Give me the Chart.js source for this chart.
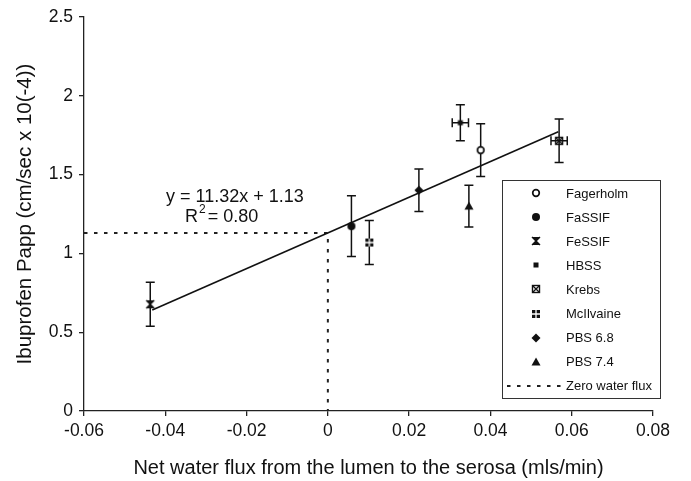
<!DOCTYPE html>
<html lang="en">
<head>
<meta charset="UTF-8">
<title>Ibuprofen Papp vs net water flux</title>
<script src="https://cdn.jsdelivr.net/npm/chart.js"></script>
<style>
    body {
        margin: 0;
        background: #fff;
        font-family: "Liberation Sans", Arial, sans-serif;
    }

    .wrap {
        position: relative;
        width: 691px;
        height: 481px;
    }

    #legend {
        position: absolute;
        left: 502px;
        top: 180px;
        width: 157px;
        height: 217px;
        border: 1.3px solid #333;
        background: #fff;
    }

    .row {
        display: flex;
        align-items: center;
        height: 24.1px;
        font-size: 13px;
        color: #111;
        white-space: nowrap;
    }

    .row canvas {
        margin-left: 4px;
        margin-right: 1px;
    }
</style>
</head>
<body>
<div class="wrap">
    <canvas id="chart" width="691" height="481"></canvas>
    <div id="legend"></div>
</div>

<script>
    // buffers and their measured values
    const buffers = ['Fagerholm', 'FaSSIF', 'FeSSIF', 'HBSS', 'Krebs', 'McIlvaine', 'PBS 6.8', 'PBS 7.4'];
    const waterFlux = [0.0376, 0.0058, -0.0437, 0.0326, 0.0569, 0.0102, 0.0224, 0.0347];
    const fluxSd = [0, 0, 0, 0.002, 0.002, 0, 0, 0];
    const papp = [1.655, 1.173, 0.677, 1.829, 1.714, 1.069, 1.401, 1.300];
    const pappSd = [0.167, 0.193, 0.140, 0.115, 0.138, 0.140, 0.135, 0.133];

    // fitted line y = 11.32x + 1.13, end points
    const fitX = [-0.0432, 0.0567];
    const fitY = [0.641, 1.772];

    // zero water flux guide
    const zeroFluxX = [-0.06, 0, 0];
    const zeroFluxY = [1.13, 1.13, 0];

    const xTickValues = [-0.06, -0.04, -0.02, 0, 0.02, 0.04, 0.06, 0.08];
    const xTickLabels = ['-0.06', '-0.04', '-0.02', '0', '0.02', '0.04', '0.06', '0.08'];
    const yTickValues = [0, 0.5, 1, 1.5, 2, 2.5];
    const yTickLabels = ['0', '0.5', '1', '1.5', '2', '2.5'];

    const ink = '#111';
    const fontFamily = '"Liberation Sans", Arial, sans-serif';
    Chart.defaults.font.family = fontFamily;
    Chart.defaults.color = ink;

    const markerKind = {
        'Fagerholm': 'openCircle',
        'FaSSIF': 'circle',
        'FeSSIF': 'hourglass',
        'HBSS': 'smallSquare',
        'Krebs': 'crossBox',
        'McIlvaine': 'plusBox',
        'PBS 6.8': 'diamond',
        'PBS 7.4': 'triangle'
    };

    function drawMarker(ctx, kind, cx, cy) {
        ctx.save();
        ctx.fillStyle = ink;
        ctx.strokeStyle = ink;
        ctx.lineWidth = 1.4;
        ctx.beginPath();
        if (kind === 'openCircle') {
            ctx.arc(cx, cy, 3.3, 0, Math.PI * 2);
            ctx.fillStyle = '#fff';
            ctx.fill();
            ctx.lineWidth = 1.7;
            ctx.stroke();
        } else if (kind === 'circle') {
            ctx.arc(cx, cy, 4, 0, Math.PI * 2);
            ctx.fill();
        } else if (kind === 'hourglass') {
            const s = 4;
            ctx.moveTo(cx - s, cy - s);
            ctx.lineTo(cx + s, cy - s);
            ctx.lineTo(cx, cy);
            ctx.closePath();
            ctx.moveTo(cx - s, cy + s);
            ctx.lineTo(cx + s, cy + s);
            ctx.lineTo(cx, cy);
            ctx.closePath();
            ctx.fill();
            ctx.beginPath();
            ctx.moveTo(cx - s, cy - s);
            ctx.lineTo(cx + s, cy + s);
            ctx.moveTo(cx + s, cy - s);
            ctx.lineTo(cx - s, cy + s);
            ctx.stroke();
        } else if (kind === 'smallSquare') {
            ctx.fillRect(cx - 2.5, cy - 2.5, 5, 5);
        } else if (kind === 'crossBox') {
            ctx.strokeRect(cx - 3.5, cy - 3.5, 7, 7);
            ctx.moveTo(cx - 3.5, cy - 3.5);
            ctx.lineTo(cx + 3.5, cy + 3.5);
            ctx.moveTo(cx + 3.5, cy - 3.5);
            ctx.lineTo(cx - 3.5, cy + 3.5);
            ctx.stroke();
        } else if (kind === 'plusBox') {
            ctx.fillRect(cx - 4, cy - 4, 8, 8);
            ctx.strokeStyle = '#fff';
            ctx.lineWidth = 1.3;
            ctx.moveTo(cx, cy - 4);
            ctx.lineTo(cx, cy + 4);
            ctx.moveTo(cx - 4, cy);
            ctx.lineTo(cx + 4, cy);
            ctx.stroke();
        } else if (kind === 'diamond') {
            ctx.moveTo(cx, cy - 4.5);
            ctx.lineTo(cx + 4.5, cy);
            ctx.lineTo(cx, cy + 4.5);
            ctx.lineTo(cx - 4.5, cy);
            ctx.closePath();
            ctx.fill();
        } else if (kind === 'triangle') {
            ctx.moveTo(cx, cy - 4.5);
            ctx.lineTo(cx + 4.5, cy + 3.5);
            ctx.lineTo(cx - 4.5, cy + 3.5);
            ctx.closePath();
            ctx.fill();
        }
        ctx.restore();
    }

    function markerCanvas(kind) {
        const c = document.createElement('canvas');
        c.width = 14;
        c.height = 14;
        drawMarker(c.getContext('2d'), kind, 7, 7);
        return c;
    }

    // vertical (and where measured, horizontal) SD bars
    const errorBars = {
        id: 'errorBars',
        beforeDatasetsDraw(chart) {
            const { ctx, scales: { x, y } } = chart;
            const cap = 4.5;
            ctx.save();
            ctx.strokeStyle = ink;
            ctx.lineWidth = 1.5;
            waterFlux.forEach((fx, i) => {
                const px = x.getPixelForValue(fx);
                const py = y.getPixelForValue(papp[i]);
                const top = y.getPixelForValue(papp[i] + pappSd[i]);
                const bot = y.getPixelForValue(papp[i] - pappSd[i]);
                ctx.beginPath();
                ctx.moveTo(px, top);
                ctx.lineTo(px, bot);
                ctx.moveTo(px - cap, top);
                ctx.lineTo(px + cap, top);
                ctx.moveTo(px - cap, bot);
                ctx.lineTo(px + cap, bot);
                if (fluxSd[i] > 0) {
                    const l = x.getPixelForValue(fx - fluxSd[i]);
                    const r = x.getPixelForValue(fx + fluxSd[i]);
                    ctx.moveTo(l, py);
                    ctx.lineTo(r, py);
                    ctx.moveTo(l, py - cap);
                    ctx.lineTo(l, py + cap);
                    ctx.moveTo(r, py - cap);
                    ctx.lineTo(r, py + cap);
                }
                ctx.stroke();
            });
            ctx.restore();
        }
    };

    // regression equation text
    const equation = {
        id: 'equation',
        afterDraw(chart) {
            const ctx = chart.ctx;
            ctx.save();
            ctx.fillStyle = ink;
            ctx.textBaseline = 'middle';
            ctx.textAlign = 'left';
            ctx.font = '18px ' + fontFamily;
            ctx.fillText('y = 11.32x + 1.13', 166, 197);
            ctx.fillText('R', 185, 217);
            const rw = ctx.measureText('R').width;
            ctx.font = '12px ' + fontFamily;
            ctx.fillText('2', 185 + rw + 1, 210);
            const sw = ctx.measureText('2').width;
            ctx.font = '18px ' + fontFamily;
            ctx.fillText('= 0.80', 185 + rw + sw + 3, 217);
            ctx.restore();
        }
    };

    const pointSets = buffers.map((name, i) => ({
        label: name,
        data: [{ x: waterFlux[i], y: papp[i] }],
        pointStyle: markerCanvas(markerKind[name]),
        pointRadius: 5,
        showLine: false
    }));

    const chart = new Chart(document.getElementById('chart'), {
        type: 'scatter',
        data: {
            datasets: [
                ...pointSets,
                {
                    label: 'Fit',
                    data: fitX.map((v, i) => ({ x: v, y: fitY[i] })),
                    showLine: true,
                    borderColor: ink,
                    borderWidth: 1.6,
                    pointRadius: 0
                },
                {
                    label: 'Zero water flux',
                    data: zeroFluxX.map((v, i) => ({ x: v, y: zeroFluxY[i] })),
                    showLine: true,
                    borderColor: '#222',
                    borderWidth: 2,
                    borderDash: [3.5, 6.5],
                    pointRadius: 0
                }
            ]
        },
        options: {
            responsive: false,
            animation: false,
            layout: {
                padding: { top: 17, right: 38, left: 0, bottom: 0 }
            },
            plugins: {
                legend: { display: false },
                tooltip: { enabled: false }
            },
            scales: {
                x: {
                    type: 'linear',
                    min: -0.06,
                    max: 0.08,
                    afterBuildTicks(scale) {
                        scale.ticks = xTickValues.map(v => ({ value: v }));
                    },
                    afterFit(scale) {
                        scale.height = 70;
                    },
                    ticks: {
                        callback: (v, i) => xTickLabels[i],
                        font: { size: 17.5 },
                        color: ink,
                        padding: 5,
                        maxRotation: 0,
                        autoSkip: false
                    },
                    grid: {
                        drawOnChartArea: false,
                        tickLength: 5,
                        color: '#222',
                        lineWidth: 1.3
                    },
                    border: { color: '#222', width: 1.3 },
                    title: {
                        display: true,
                        text: 'Net water flux from the lumen to the serosa (mls/min)',
                        font: { size: 20 },
                        color: ink,
                        padding: { top: 0, bottom: 1 }
                    }
                },
                y: {
                    type: 'linear',
                    min: 0,
                    max: 2.5,
                    afterBuildTicks(scale) {
                        scale.ticks = yTickValues.map(v => ({ value: v }));
                    },
                    afterFit(scale) {
                        scale.width = 84;
                    },
                    ticks: {
                        callback: (v, i) => yTickLabels[i],
                        font: { size: 17.5 },
                        color: ink,
                        padding: 6
                    },
                    grid: {
                        drawOnChartArea: false,
                        tickLength: 5,
                        color: '#222',
                        lineWidth: 1.3
                    },
                    border: { color: '#222', width: 1.3 },
                    title: {
                        display: true,
                        text: 'Ibuprofen Papp (cm/sec x 10(-4))',
                        font: { size: 20.5 },
                        color: ink,
                        padding: { top: 13, bottom: 0 }
                    }
                }
            }
        },
        plugins: [errorBars, equation]
    });

    // legend box built from the chart's own datasets
    const legendEl = document.getElementById('legend');
    chart.data.datasets.forEach(ds => {
        if (ds.label === 'Fit') return;
        const row = document.createElement('div');
        row.className = 'row';
        const c = document.createElement('canvas');
        c.width = 58;
        c.height = 20;
        const g = c.getContext('2d');
        if (markerKind[ds.label]) {
            drawMarker(g, markerKind[ds.label], 29, 10);
        } else {
            g.strokeStyle = ds.borderColor;
            g.lineWidth = ds.borderWidth;
            g.setLineDash(ds.borderDash);
            g.beginPath();
            g.moveTo(0, 10);
            g.lineTo(58, 10);
            g.stroke();
        }
        const span = document.createElement('span');
        span.textContent = ds.label;
        row.appendChild(c);
        row.appendChild(span);
        legendEl.appendChild(row);
    });
</script>
</body>
</html>
